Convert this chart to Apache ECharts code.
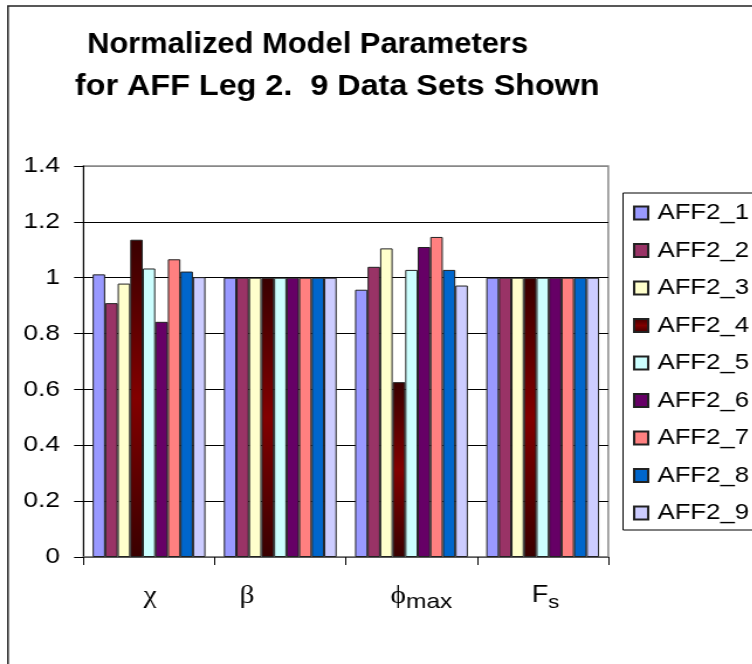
<!DOCTYPE html>
<html>
<head>
<meta charset="utf-8">
<script src="https://cdn.jsdelivr.net/npm/echarts@6/dist/echarts.min.js"></script>
<style>
  html, body { margin: 0; padding: 0; background: #fff; overflow: hidden; }
  /* The chart is laid out on a narrower canvas and widened, giving the
     broad lettering of the original spreadsheet export. */
  #chart { width: 643px; height: 664px; transform: scaleX(1.17); transform-origin: 0 0; }
</style>
</head>
<body>
<div id="chart"></div>
<script>
// Parameters on the horizontal axis
const categories = ['chi', 'beta', 'phimax', 'Fs'];

// Normalized parameter values, one array per data set
const AFF2_1 = [1.012, 1, 0.957, 1];
const AFF2_2 = [0.909, 1, 1.039, 1];
const AFF2_3 = [0.979, 1, 1.105, 1];
const AFF2_4 = [1.136, 1, 0.626, 1];
const AFF2_5 = [1.033, 1, 1.028, 1];
const AFF2_6 = [0.842, 1, 1.110, 1];
const AFF2_7 = [1.066, 1, 1.146, 1];
const AFF2_8 = [1.022, 1, 1.028, 1];
const AFF2_9 = [1.002, 1, 0.972, 1];

const seriesNames = ['AFF2_1', 'AFF2_2', 'AFF2_3', 'AFF2_4', 'AFF2_5',
                     'AFF2_6', 'AFF2_7', 'AFF2_8', 'AFF2_9'];
const seriesValues = [AFF2_1, AFF2_2, AFF2_3, AFF2_4, AFF2_5,
                      AFF2_6, AFF2_7, AFF2_8, AFF2_9];

// Value axis tick labels
const yTickLabels = ['0', '0.2', '0.4', '0.6', '0.8', '1', '1.2', '1.4'];

// Two-line chart heading
const titleLines = ['Normalized Model Parameters', 'for AFF Leg 2.  9 Data Sets Shown'];

const darkRed = new echarts.graphic.LinearGradient(0, 0, 0, 1, [
  { offset: 0, color: '#3a0000' },
  { offset: 0.5, color: '#820000' },
  { offset: 1, color: '#3a0000' }
]);
const fills = ['#9999ff', '#993366', '#ffffcc', darkRed, '#ccffff',
               '#660066', '#ff8080', '#0066cc', '#ccccff'];

// Axis label markup for each parameter (Greek symbols and subscripts)
const categoryLabels = {
  chi: '{g0|χ}',
  beta: '{g1|β}',
  phimax: '{g2|ϕ}{sub2|max}',
  Fs: '{f3|F}{sub3|s}'
};

const chart = echarts.init(document.getElementById('chart'));

const titleFont = 'bold 29px "Liberation Sans"';

chart.setOption({
  animation: false,
  backgroundColor: '#fff',
  graphic: [
    {
      type: 'rect',
      shape: { x: 6.8, y: 6, width: 800, height: 800 },
      style: { fill: 'none', stroke: '#222', lineWidth: 1.5 },
      silent: true
    },
    {
      type: 'text', x: 74.4, y: 45, scaleX: 0.91,
      style: { text: titleLines[0], font: titleFont, fill: '#000', verticalAlign: 'middle', align: 'left' }
    },
    {
      type: 'text', x: 64.1, y: 87, scaleX: 0.953,
      style: { text: titleLines[1], font: titleFont, fill: '#000', verticalAlign: 'middle', align: 'left' }
    }
  ],
  legend: {
    orient: 'vertical',
    left: 532.5,
    top: 193,
    padding: [9, 40, 6, 8.5],
    itemWidth: 12,
    itemHeight: 13,
    itemGap: 15.5,
    icon: 'rect',
    borderColor: '#000',
    borderWidth: 1,
    textStyle: { fontFamily: 'Liberation Sans', fontSize: 22, lineHeight: 22, color: '#000', padding: [0, 0, 0, 3] },
    data: seriesNames
  },
  grid: {
    left: 71.3, right: 123.1, top: 166, bottom: 107,
    show: true, borderColor: '#888', borderWidth: 1.5, backgroundColor: '#fff'
  },
  xAxis: {
    type: 'category',
    data: categories,
    axisLine: { lineStyle: { color: '#777', width: 1.5 } },
    axisTick: { show: true, length: 8, lineStyle: { color: '#000', width: 1 } },
    axisLabel: {
      margin: 27,
      interval: 0,
      formatter: v => categoryLabels[v],
      rich: {
        g0: { fontFamily: 'Liberation Serif', fontSize: 25, color: '#000', padding: [0, 0, 6, 2] },
        g1: { fontFamily: 'Liberation Serif', fontSize: 25, color: '#000', padding: [0, 57, 6, 0] },
        g2: { fontFamily: 'Liberation Serif', fontSize: 25, color: '#000', padding: [0, 0, 6, 17] },
        sub2: { fontFamily: 'Liberation Sans', fontSize: 21, color: '#000', padding: [6, 0, 0, 0] },
        f3: { fontFamily: 'Liberation Sans', fontSize: 23, color: '#000', padding: [0, 0, 6, 5] },
        sub3: { fontFamily: 'Liberation Sans', fontSize: 19, color: '#000', padding: [8, 0, 0, 0] }
      }
    },
    splitLine: { show: false }
  },
  yAxis: {
    type: 'value',
    min: 0, max: 1.4, interval: 0.2,
    axisLine: { show: true, lineStyle: { color: '#000', width: 1 } },
    axisTick: { show: true, length: 8, lineStyle: { color: '#000' } },
    axisLabel: {
      margin: 20,
      fontFamily: 'Liberation Sans', fontSize: 22.5, color: '#000',
      formatter: v => yTickLabels[Math.round(v / 0.2)]
    },
    splitLine: {
      show: true,
      lineStyle: { color: ['#000', '#000', '#000', '#000', '#000', '#000', '#000', '#888'], width: 1 }
    }
  },
  series: seriesNames.map((name, i) => ({
    name: name,
    type: 'bar',
    data: seriesValues[i],
    barGap: '0%',
    barCategoryGap: '14%',
    itemStyle: { color: fills[i], borderColor: '#222', borderWidth: 1 }
  }))
});
</script>
</body>
</html>
